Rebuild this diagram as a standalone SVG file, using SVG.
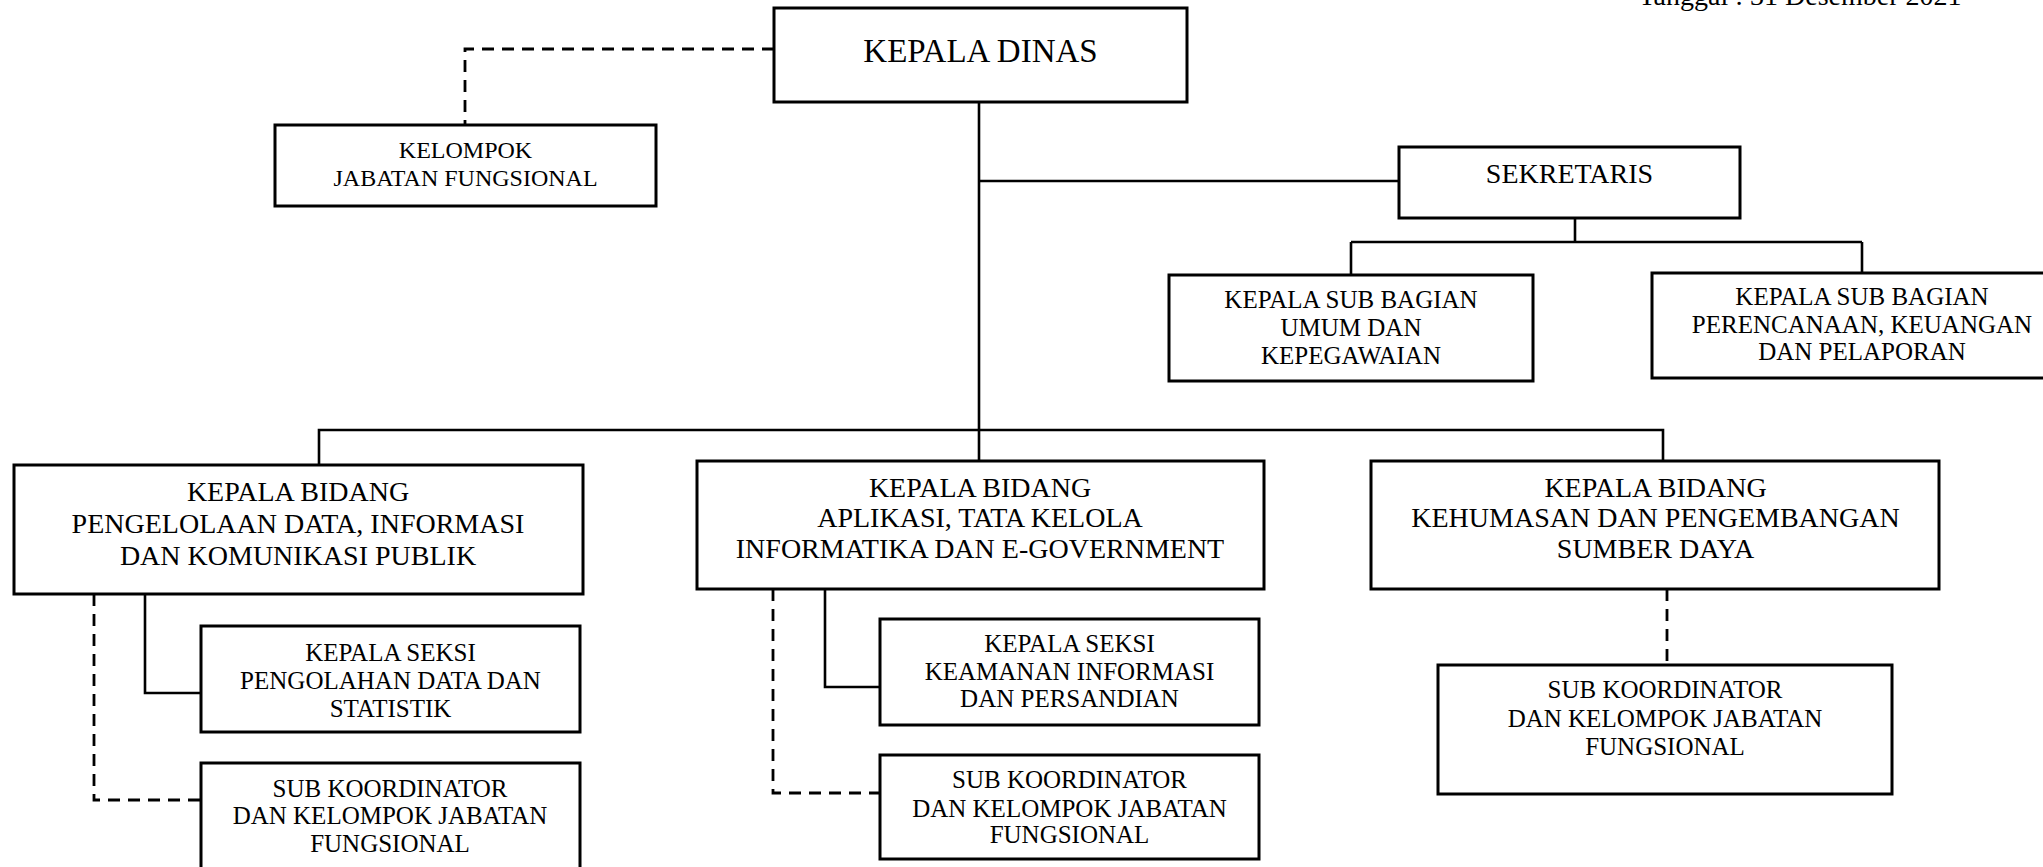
<svg xmlns="http://www.w3.org/2000/svg" width="2043" height="867" viewBox="0 0 2043 867">
<style>
.box{fill:#fff;stroke:#000;stroke-width:3}
.ln{fill:none;stroke:#000;stroke-width:2.6}
.dash{fill:none;stroke:#000;stroke-width:2.8;stroke-dasharray:12 8}
text{font-family:"Liberation Serif","Times New Roman",serif;fill:#000;text-anchor:middle}
.t33{font-size:33px}
.t28{font-size:28px}
.t25{font-size:25px}
.t24{font-size:24px}
</style>
<rect width="2043" height="867" fill="#fff"/>
<text x="1800" y="5" style="font-size:28px">Tanggal : 31 Desember 2021</text>
<g id="connectors">
<path class="dash" d="M774,49 H465 V125"/>
<path class="ln" d="M979,102 V461"/>
<path class="ln" d="M979,181 H1399"/>
<path class="ln" d="M1575,218 V242 M1351,242 H1862 M1351,242 V275 M1862,242 V273"/>
<path class="ln" d="M319,465 V430 H1663 V461"/>
<path class="ln" d="M145,594 V693 H201"/>
<path class="dash" d="M94,594 V800 H201"/>
<path class="ln" d="M825,589 V687 H880"/>
<path class="dash" d="M773,589 V793 H880"/>
<path class="dash" d="M1667,589 V665"/>
</g>
<g id="kepala-dinas">
<rect class="box" x="774" y="8" width="413" height="94"/>
<text class="t33" x="980.5" y="62">KEPALA DINAS</text>
</g>
<g id="kelompok-jf">
<rect class="box" x="275" y="125" width="381" height="81"/>
<text class="t24" x="465.5" y="158">KELOMPOK</text>
<text class="t24" x="465.5" y="186">JABATAN FUNGSIONAL</text>
</g>
<g id="sekretaris">
<rect class="box" x="1399" y="147" width="341" height="71"/>
<text class="t28" x="1569.5" y="183">SEKRETARIS</text>
</g>
<g id="subbag-umum">
<rect class="box" x="1169" y="275" width="364" height="106"/>
<text class="t25" x="1351" y="308">KEPALA SUB BAGIAN</text>
<text class="t25" x="1351" y="336">UMUM DAN</text>
<text class="t25" x="1351" y="364">KEPEGAWAIAN</text>
</g>
<g id="subbag-perencanaan">
<rect class="box" x="1652" y="273" width="420" height="105"/>
<text class="t25" x="1862" y="305">KEPALA SUB BAGIAN</text>
<text class="t25" x="1862" y="333">PERENCANAAN, KEUANGAN</text>
<text class="t25" x="1862" y="360">DAN PELAPORAN</text>
</g>
<g id="bidang-1">
<rect class="box" x="14" y="465" width="569" height="129"/>
<text class="t28" x="298" y="501">KEPALA BIDANG</text>
<text class="t28" x="298" y="533">PENGELOLAAN DATA, INFORMASI</text>
<text class="t28" x="298" y="565">DAN KOMUNIKASI PUBLIK</text>
</g>
<g id="seksi-1">
<rect class="box" x="201" y="626" width="379" height="106"/>
<text class="t25" x="390.5" y="661">KEPALA SEKSI</text>
<text class="t25" x="390.5" y="689">PENGOLAHAN DATA DAN</text>
<text class="t25" x="390.5" y="717">STATISTIK</text>
</g>
<g id="subkoor-1">
<rect class="box" x="201" y="763" width="379" height="110"/>
<text class="t25" x="390" y="797">SUB KOORDINATOR</text>
<text class="t25" x="390" y="824">DAN KELOMPOK JABATAN</text>
<text class="t25" x="390" y="852">FUNGSIONAL</text>
</g>
<g id="bidang-2">
<rect class="box" x="697" y="461" width="567" height="128"/>
<text class="t28" x="980" y="497">KEPALA BIDANG</text>
<text class="t28" x="980" y="527">APLIKASI, TATA KELOLA</text>
<text class="t28" x="980" y="558">INFORMATIKA DAN E-GOVERNMENT</text>
</g>
<g id="seksi-2">
<rect class="box" x="880" y="619" width="379" height="106"/>
<text class="t25" x="1069.5" y="652">KEPALA SEKSI</text>
<text class="t25" x="1069.5" y="680">KEAMANAN INFORMASI</text>
<text class="t25" x="1069.5" y="707">DAN PERSANDIAN</text>
</g>
<g id="subkoor-2">
<rect class="box" x="880" y="755" width="379" height="104"/>
<text class="t25" x="1069.5" y="788">SUB KOORDINATOR</text>
<text class="t25" x="1069.5" y="817">DAN KELOMPOK JABATAN</text>
<text class="t25" x="1069.5" y="843">FUNGSIONAL</text>
</g>
<g id="bidang-3">
<rect class="box" x="1371" y="461" width="568" height="128"/>
<text class="t28" x="1655.5" y="497">KEPALA BIDANG</text>
<text class="t28" x="1655.5" y="527">KEHUMASAN DAN PENGEMBANGAN</text>
<text class="t28" x="1655.5" y="558">SUMBER DAYA</text>
</g>
<g id="subkoor-3">
<rect class="box" x="1438" y="665" width="454" height="129"/>
<text class="t25" x="1665" y="698">SUB KOORDINATOR</text>
<text class="t25" x="1665" y="727">DAN KELOMPOK JABATAN</text>
<text class="t25" x="1665" y="755">FUNGSIONAL</text>
</g>
</svg>
